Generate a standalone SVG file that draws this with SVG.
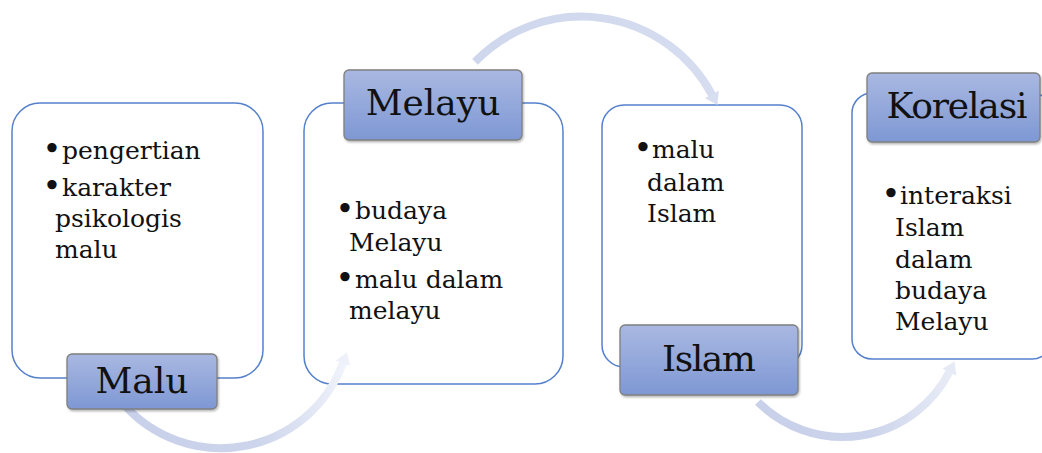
<svg xmlns="http://www.w3.org/2000/svg" width="1042" height="453" viewBox="0 0 1042 453">
  <style>
    .panel { fill: #ffffff; stroke: #5580CC; stroke-width: 1.5; }
    .tab { fill: url(#tabFill); stroke: #7F7F7F; stroke-width: 1.3; filter: url(#tabShadow); }
    .tabText { font-family: "DejaVu Serif", "Liberation Serif", serif; font-size: 36px; fill: #111111; text-anchor: middle; }
    .item { font-family: "DejaVu Serif", "Liberation Serif", serif; font-size: 25px; fill: #111111; }
    .dot { font-family: "DejaVu Serif", "Liberation Serif", serif; font-size: 32px; fill: #111111; }
    .flow { fill: none; stroke-width: 8; stroke-linecap: butt; }
  </style>
  <defs>
    <linearGradient id="tabFill" x1="0" y1="0" x2="0" y2="1">
      <stop offset="0" stop-color="#A9B8E1"/>
      <stop offset="1" stop-color="#7E98D4"/>
    </linearGradient>
    <filter id="tabShadow" x="-10%" y="-10%" width="120%" height="130%">
      <feDropShadow dx="1" dy="1.5" stdDeviation="1" flood-color="#000000" flood-opacity="0.3"/>
    </filter>
    <linearGradient id="flow1" gradientUnits="userSpaceOnUse" x1="126" y1="407" x2="343" y2="362">
      <stop offset="0" stop-color="#C8D0EA"/>
      <stop offset="0.55" stop-color="#CDD5EC"/>
      <stop offset="1" stop-color="#F0F3FA"/>
    </linearGradient>
    <linearGradient id="flow2" gradientUnits="userSpaceOnUse" x1="475" y1="62" x2="712" y2="95">
      <stop offset="0" stop-color="#CFD7ED"/>
      <stop offset="1" stop-color="#D6DDF0"/>
    </linearGradient>
    <linearGradient id="flow3" gradientUnits="userSpaceOnUse" x1="758" y1="402" x2="950" y2="371">
      <stop offset="0" stop-color="#C8D0EA"/>
      <stop offset="0.55" stop-color="#CDD5EC"/>
      <stop offset="1" stop-color="#E8ECF6"/>
    </linearGradient>
    <marker id="headFaint" markerUnits="userSpaceOnUse" markerWidth="14" markerHeight="18" refX="1" refY="8" orient="auto" viewBox="0 0 14 16">
      <path d="M0,0 L12,8 L0,16 z" fill="#EEF1F9"/>
    </marker>
    <marker id="headMid" markerUnits="userSpaceOnUse" markerWidth="14" markerHeight="18" refX="1" refY="8" orient="auto" viewBox="0 0 14 16">
      <path d="M0,0 L12,8 L0,16 z" fill="#D8DFF1"/>
    </marker>
    <marker id="headLight" markerUnits="userSpaceOnUse" markerWidth="14" markerHeight="18" refX="1" refY="8" orient="auto" viewBox="0 0 14 16">
      <path d="M0,0 L12,8 L0,16 z" fill="#E6EAF5"/>
    </marker>
  </defs>

  <!-- content panels -->
  <g id="panel-malu">
    <rect class="panel" x="12" y="103" width="251" height="275" rx="28"/>
    <text class="dot" x="42.5" y="160">•</text>
    <text class="item" x="62" y="159">pengertian</text>
    <text class="dot" x="42.5" y="197">•</text>
    <text class="item" x="62" y="196">karakter</text>
    <text class="item" x="55" y="227">psikologis</text>
    <text class="item" x="55" y="258">malu</text>
  </g>

  <g id="panel-melayu">
    <rect class="panel" x="304" y="103" width="259" height="281" rx="28"/>
    <text class="dot" x="335.5" y="220">•</text>
    <text class="item" x="355" y="219">budaya</text>
    <text class="item" x="349" y="251">Melayu</text>
    <text class="dot" x="335.5" y="289">•</text>
    <text class="item" x="355" y="288">malu dalam</text>
    <text class="item" x="349" y="319">melayu</text>
  </g>

  <g id="panel-islam">
    <rect class="panel" x="602" y="105" width="200" height="262" rx="22"/>
    <text class="dot" x="633.5" y="159">•</text>
    <text class="item" x="652" y="158">malu</text>
    <text class="item" x="647" y="191">dalam</text>
    <text class="item" x="647" y="222">Islam</text>
  </g>

  <g id="panel-korelasi">
    <rect class="panel" x="852" y="93" width="200" height="266" rx="20"/>
    <text class="dot" x="881.5" y="205">•</text>
    <text class="item" x="900" y="204">interaksi</text>
    <text class="item" x="895" y="236">Islam</text>
    <text class="item" x="895" y="268">dalam</text>
    <text class="item" x="895" y="299">budaya</text>
    <text class="item" x="895" y="330">Melayu</text>
  </g>

  <!-- curved flow arrows between the stages -->
  <g id="connectors">
    <path class="flow" stroke="url(#flow1)" marker-end="url(#headFaint)" d="M125.9,406.7 A130,130 0 0 0 343.2,362.5"/>
    <path class="flow" stroke="url(#flow2)" marker-end="url(#headMid)" d="M475,61.9 A148,148 0 0 1 712.2,95.2"/>
    <path class="flow" stroke="url(#flow3)" marker-end="url(#headLight)" d="M758,402 A120,120 0 0 0 949.7,371.4"/>
  </g>

  <!-- stage title tabs -->
  <g id="tab-malu">
    <rect class="tab" x="67" y="354" width="150" height="55" rx="5"/>
    <text class="tabText" x="142" y="393">Malu</text>
  </g>
  <g id="tab-melayu">
    <rect class="tab" x="344" y="70" width="178" height="70" rx="5"/>
    <text class="tabText" x="433" y="115">Melayu</text>
  </g>
  <g id="tab-islam">
    <rect class="tab" x="620" y="325" width="178" height="70" rx="5"/>
    <text class="tabText" x="709" y="371" textLength="94">Islam</text>
  </g>
  <g id="tab-korelasi">
    <rect class="tab" x="867" y="73" width="173" height="69" rx="5"/>
    <text class="tabText" x="957" y="118" textLength="141">Korelasi</text>
  </g>
</svg>
